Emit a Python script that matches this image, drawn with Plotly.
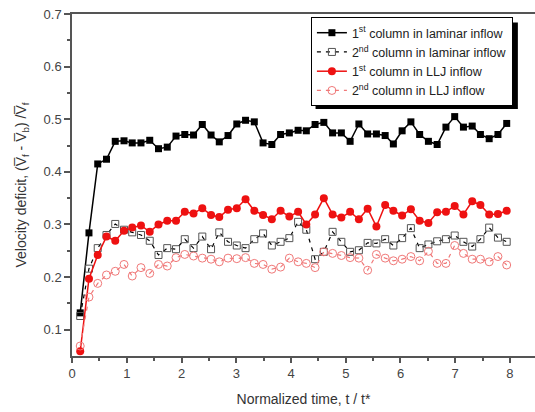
import plotly.graph_objects as go

# Normalized time samples, t / t*
t = [0.15, 0.31, 0.47, 0.63, 0.79, 0.95, 1.10, 1.26, 1.42, 1.58,
     1.74, 1.90, 2.06, 2.22, 2.38, 2.54, 2.69, 2.85, 3.01, 3.17,
     3.33, 3.49, 3.65, 3.81, 3.97, 4.13, 4.28, 4.44, 4.60, 4.76,
     4.92, 5.08, 5.24, 5.40, 5.56, 5.72, 5.87, 6.03, 6.19, 6.35,
     6.51, 6.67, 6.83, 6.99, 7.15, 7.31, 7.46, 7.62, 7.78, 7.94]

# Velocity deficit per turbine column and inflow type
col1_laminar = [0.132, 0.284, 0.415, 0.424, 0.458, 0.459, 0.455, 0.455, 0.460, 0.444,
                0.447, 0.468, 0.471, 0.470, 0.490, 0.470, 0.457, 0.469, 0.491, 0.498,
                0.495, 0.455, 0.452, 0.471, 0.474, 0.479, 0.478, 0.490, 0.494, 0.474,
                0.474, 0.458, 0.491, 0.472, 0.472, 0.469, 0.453, 0.478, 0.495, 0.471,
                0.458, 0.452, 0.485, 0.505, 0.485, 0.487, 0.471, 0.463, 0.471, 0.492]

col2_laminar = [0.126, 0.216, 0.255, 0.280, 0.301, 0.290, 0.285, 0.280, 0.269, 0.242,
                0.255, 0.253, 0.272, 0.255, 0.277, 0.253, 0.285, 0.267, 0.260, 0.255,
                0.272, 0.283, 0.260, 0.267, 0.274, 0.305, 0.290, 0.234, 0.248, 0.286,
                0.267, 0.248, 0.251, 0.265, 0.264, 0.272, 0.260, 0.274, 0.293, 0.255,
                0.262, 0.268, 0.272, 0.279, 0.267, 0.258, 0.272, 0.294, 0.275, 0.267]

col1_llj = [0.059, 0.197, 0.242, 0.277, 0.269, 0.288, 0.294, 0.298, 0.286, 0.300,
            0.307, 0.307, 0.324, 0.321, 0.331, 0.318, 0.314, 0.328, 0.331, 0.348,
            0.326, 0.318, 0.310, 0.326, 0.315, 0.324, 0.300, 0.319, 0.350, 0.319,
            0.313, 0.324, 0.310, 0.330, 0.296, 0.337, 0.326, 0.317, 0.329, 0.307,
            0.303, 0.323, 0.324, 0.335, 0.319, 0.344, 0.337, 0.319, 0.320, 0.326]

col2_llj = [0.069, 0.162, 0.188, 0.204, 0.211, 0.224, 0.202, 0.218, 0.207, 0.224,
            0.221, 0.237, 0.243, 0.240, 0.236, 0.234, 0.229, 0.236, 0.235, 0.237,
            0.226, 0.224, 0.215, 0.219, 0.236, 0.229, 0.226, 0.218, 0.248, 0.245,
            0.241, 0.237, 0.236, 0.213, 0.243, 0.236, 0.231, 0.234, 0.239, 0.231,
            0.249, 0.226, 0.226, 0.260, 0.245, 0.234, 0.234, 0.229, 0.239, 0.223]

x_ticks = [0, 1, 2, 3, 4, 5, 6, 7, 8]
y_ticks = [0.1, 0.2, 0.3, 0.4, 0.5, 0.6, 0.7]
y_tick_text = ["0.1", "0.2", "0.3", "0.4", "0.5", "0.6", "0.7"]

FONT = "Arial, Liberation Sans, sans-serif"

fig = go.Figure()

fig.add_trace(go.Scatter(
    x=t, y=col1_laminar, mode="lines+markers",
    name="1<sup>st</sup> column in laminar inflow",
    line=dict(color="black", width=1.5),
    marker=dict(symbol="square", size=7, color="black"),
))
fig.add_trace(go.Scatter(
    x=t, y=col2_laminar, mode="lines+markers",
    name="2<sup>nd</sup> column in laminar inflow",
    line=dict(color="black", width=1.2, dash="4px,5px"),
    marker=dict(symbol="square-open", size=7, color="#555555", line=dict(width=1)),
))
fig.add_trace(go.Scatter(
    x=t, y=col1_llj, mode="lines+markers",
    name="1<sup>st</sup> column in LLJ inflow",
    line=dict(color="#ee1111", width=1.5),
    marker=dict(symbol="circle", size=8, color="#ee1111"),
))
fig.add_trace(go.Scatter(
    x=t, y=col2_llj, mode="lines+markers",
    name="2<sup>nd</sup> column in LLJ inflow",
    line=dict(color="#f07878", width=1.2, dash="4px,5px"),
    marker=dict(symbol="circle-open", size=8, color="#f07878", line=dict(width=1)),
))

# drop shadow behind the legend box (offset down and to the right)
fig.add_shape(type="rect", xref="paper", yref="paper",
              x0=0.526, x1=0.963, y0=0.722, y1=0.975,
              fillcolor="black", line=dict(width=0), layer="above")

fig.update_layout(
    width=535, height=412,
    margin=dict(l=72, r=0, t=14, b=56),
    paper_bgcolor="white", plot_bgcolor="white",
    font=dict(family=FONT, color="#333333"),
    showlegend=True,
    legend=dict(
        x=0.516, y=0.991, xanchor="left", yanchor="top",
        bgcolor="white", bordercolor="black", borderwidth=1,
        font=dict(size=12.5, color="#222222"),
        tracegroupgap=0, itemwidth=30,
    ),
    xaxis=dict(
        range=[0, 8.457], tickvals=x_ticks,
        showline=True, linecolor="#555555", linewidth=1.5, mirror=True,
        ticks="outside", ticklen=5, tickcolor="#555555", tickwidth=1.5,
        minor=dict(dtick=0.5, ticks="outside", ticklen=3, tickcolor="#555555"),
        showgrid=False, zeroline=False,
        tickfont=dict(size=13, color="#444444"),
        title=dict(text="Normalized time, t / t*", font=dict(size=14, color="#333333"),
                   standoff=14),
    ),
    yaxis=dict(
        range=[0.05, 0.7], tickvals=y_ticks, ticktext=y_tick_text,
        showline=True, linecolor="#555555", linewidth=1.5, mirror=False,
        ticks="outside", ticklen=6, tickcolor="#555555", tickwidth=1.5,
        minor=dict(tickvals=[0.15, 0.25, 0.35, 0.45, 0.55, 0.65], ticks="outside",
                   ticklen=3, tickcolor="#555555"),
        showgrid=False, zeroline=False,
        tickfont=dict(size=13, color="#444444"),
        title=dict(text="Velocity deficit, (V\u0305<sub>f</sub> - V\u0305<sub>b</sub>) /V\u0305<sub>f</sub>",
                   font=dict(size=14, color="#333333"), standoff=14),
    ),
)

fig.write_html("out.html")
